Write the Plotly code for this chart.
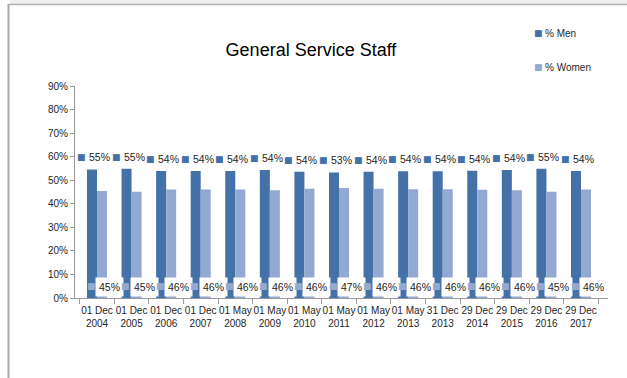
import plotly.graph_objects as go

# Staffing snapshot dates (two-line tick labels)
dates = ["01 Dec<br>2004", "01 Dec<br>2005", "01 Dec<br>2006", "01 Dec<br>2007",
         "01 May<br>2008", "01 May<br>2009", "01 May<br>2010", "01 May<br>2011",
         "01 May<br>2012", "01 May<br>2013", "31 Dec<br>2013", "29 Dec<br>2014",
         "29 Dec<br>2015", "29 Dec<br>2016", "29 Dec<br>2017"]

# Share of staff by gender (fractions)
men = [0.546, 0.549, 0.539, 0.539, 0.539, 0.543, 0.536, 0.533, 0.536, 0.538,
       0.538, 0.540, 0.543, 0.549, 0.539]
women = [0.454, 0.451, 0.461, 0.461, 0.461, 0.457, 0.464, 0.467, 0.464, 0.462,
         0.462, 0.460, 0.457, 0.451, 0.461]

y_ticks = [i / 10 for i in range(10)]

MEN_C = "#4571a9"
WOMEN_C = "#94a9d1"
FONT = "Liberation Sans Narrow, Arial Narrow, Liberation Sans, Arial, sans-serif"
TXT = "#262626"

W, H = 627, 378
L, R, T, B = 75, 608, 86, 298   # plot area in pixels


def px(x):
    return (x - L) / (R - L)


def py(y):
    return (B - y) / (B - T)


fig = go.Figure()
fig.add_bar(x=dates, y=men, name="% Men", marker=dict(color=MEN_C, line=dict(width=0)),
            showlegend=False, hoverinfo="x+y")
fig.add_bar(x=dates, y=women, name="% Women", marker=dict(color=WOMEN_C, line=dict(width=0)),
            showlegend=False, hoverinfo="x+y")

ann = []
for d, m, w in zip(dates, men, women):
    # men: key square + value above the bar
    ann.append(dict(x=d, y=m, xref="x", yref="y", text="■", showarrow=False,
                    font=dict(family="DejaVu Sans", size=9, color=MEN_C),
                    xshift=-15.5, yshift=12, yanchor="middle"))
    ann.append(dict(x=d, y=m, xref="x", yref="y", text=f"{round(m * 100)}%", showarrow=False,
                    font=dict(family=FONT, size=10.5, color=TXT),
                    xshift=2.5, yshift=12, yanchor="middle"))
    # women: key square + value on white box at the bar base
    ann.append(dict(x=d, y=0, xref="x", yref="y", text="■", showarrow=False,
                    font=dict(family="DejaVu Sans", size=9, color=WOMEN_C),
                    xshift=-6, yshift=12, yanchor="middle"))
    ann.append(dict(x=d, y=0, xref="x", yref="y", text=f"{round(w * 100)}%", showarrow=False,
                    font=dict(family=FONT, size=10.5, color=TXT), bgcolor="white", borderpad=3,
                    xshift=12.5, yshift=11.5, yanchor="middle"))

# legend entries
for label, col, yy in [("% Men", MEN_C, 33), ("% Women", WOMEN_C, 67)]:
    ann.append(dict(x=px(538), y=py(yy), xref="paper", yref="paper", text="■", showarrow=False,
                    font=dict(family="DejaVu Sans", size=9, color=col), xanchor="center",
                    yanchor="middle"))
    ann.append(dict(x=px(543), y=py(yy), xref="paper", yref="paper", text=label, showarrow=False,
                    font=dict(family=FONT, size=10, color=TXT), xanchor="left",
                    yanchor="middle"))

# frame around the chart area
shapes = [
    dict(type="rect", xref="paper", yref="paper", x0=px(10), x1=px(W + 2), y0=py(4), y1=py(-2),
         fillcolor="#efefef", line=dict(width=0), layer="below"),
    dict(type="line", xref="paper", yref="paper", x0=px(8.5), x1=px(W + 2), y0=py(4.5), y1=py(4.5),
         line=dict(color="#b0b0b0", width=1.5)),
    dict(type="line", xref="paper", yref="paper", x0=px(8.5), x1=px(8.5), y0=py(4), y1=py(H + 2),
         line=dict(color="#a8a8a8", width=2)),
]

fig.update_layout(
    width=W, height=H,
    margin=dict(l=L, r=W - R, t=T, b=H - B, pad=0),
    paper_bgcolor="white", plot_bgcolor="white",
    barmode="group", bargap=0.42, bargroupgap=0,
    title=dict(text="General Service Staff", x=311 / W, y=1 - 50 / H, xanchor="center",
               yanchor="middle", xref="container", yref="container",
               font=dict(family=FONT, size=18, color="#000000")),
    font=dict(family=FONT, size=10, color=TXT),
    annotations=ann, shapes=shapes,
    showlegend=False,
)
fig.update_xaxes(type="category", showline=True, linecolor="#9a9a9a", linewidth=1,
                 ticks="outside", tickson="boundaries", ticklen=5, tickcolor="#9a9a9a",
                 tickangle=0, ticklabelstandoff=3,
                 tickfont=dict(family=FONT, size=10, color=TXT), showgrid=False,
                 fixedrange=True)
fig.update_yaxes(range=[0, 0.9], tickvals=y_ticks, tickformat=".0%", showline=True,
                 linecolor="#9a9a9a", linewidth=1, ticks="outside", ticklen=4,
                 tickcolor="#9a9a9a", tickfont=dict(family=FONT, size=10, color=TXT),
                 showgrid=False, zeroline=False, fixedrange=True)

fig.write_html("out.html")
